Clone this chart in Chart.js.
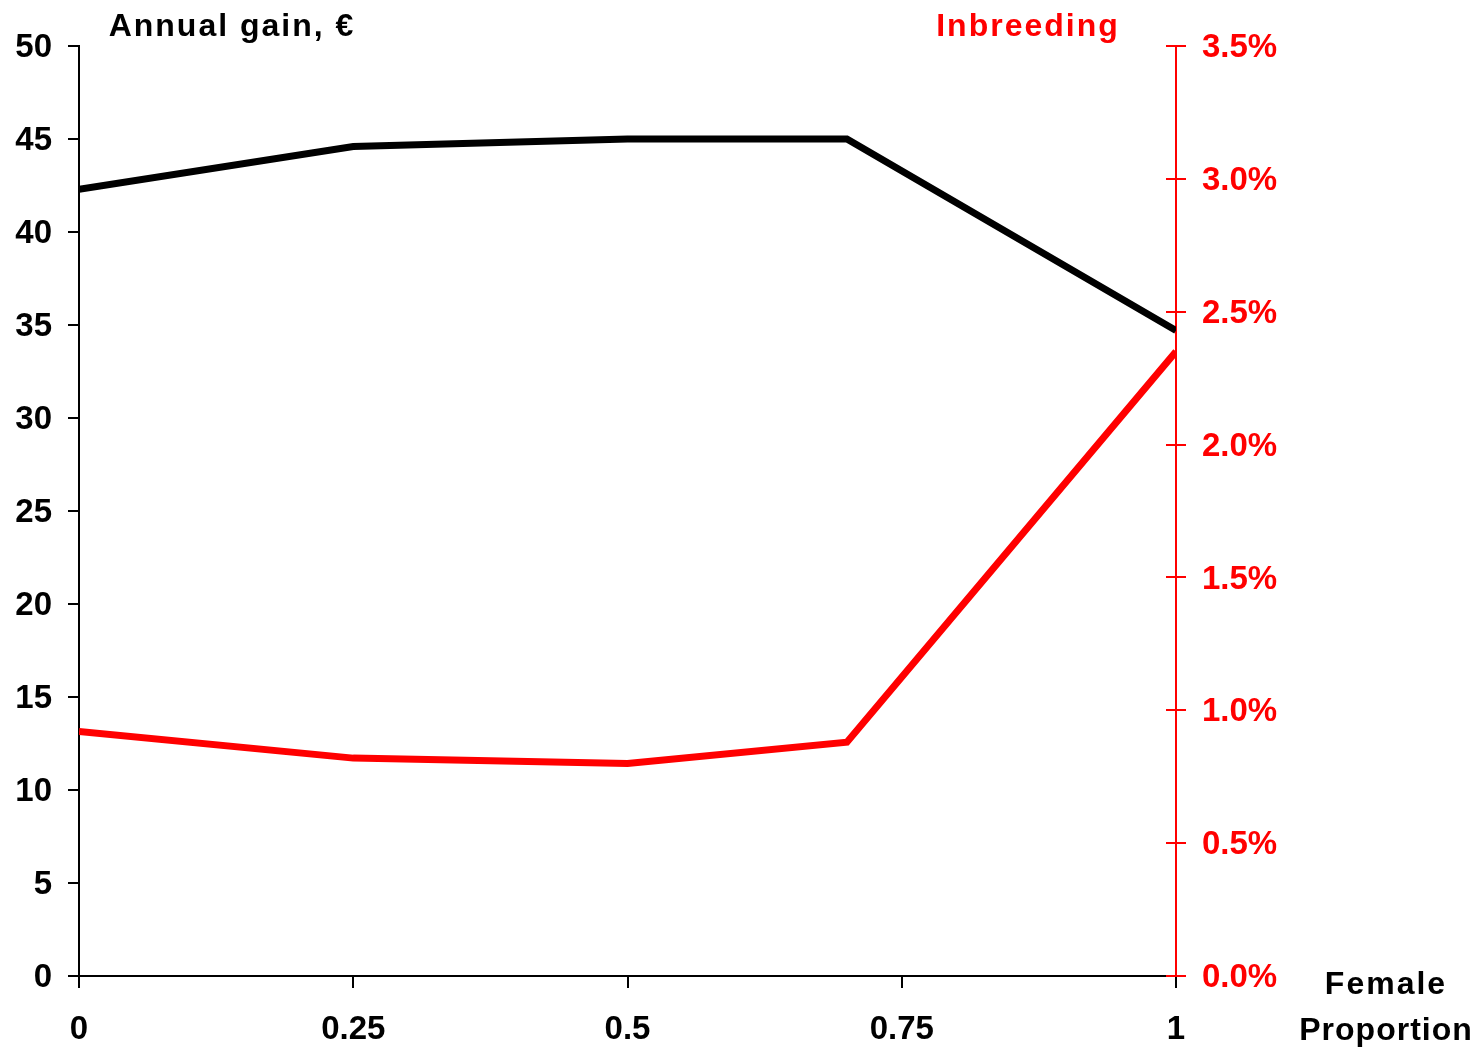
<!DOCTYPE html>
<html>
<head>
<meta charset="utf-8">
<script src="https://cdn.jsdelivr.net/npm/chart.js@4.4.1/dist/chart.umd.min.js"></script>
<style>
  body { margin: 0; background: #fff; }
  #wrap { width: 1482px; height: 1047px; }
</style>
</head>
<body>
<div id="wrap"><canvas id="myChart" width="1482" height="1047"></canvas></div>
<script>
// female proportion on x axis
let proportions = [0, 0.25, 0.5, 0.7, 1];
// annual gain in euro (left axis)
let annualGain = [42.3, 44.6, 45.0, 45.0, 34.7];
// inbreeding in percent (right axis)
let inbreeding = [0.92, 0.82, 0.80, 0.88, 2.35];

let xTicks = [0, 0.25, 0.5, 0.75, 1];

const FONT = '"Liberation Sans", Arial, sans-serif';

function toPoints(values) {
  return proportions.map((p, i) => ({ x: p, y: values[i] }));
}

// red ticks on the right axis cross the axis line, draw the inner half
const crossTicks = {
  id: "crossTicks",
  afterDatasetsDraw(chart) {
    const ctx = chart.ctx;
    const scale = chart.scales.y1;
    ctx.save();
    ctx.strokeStyle = "#ff0000";
    ctx.lineWidth = 2;
    scale.ticks.forEach(t => {
      let y = Math.round(scale.getPixelForValue(t.value));
      ctx.beginPath();
      ctx.moveTo(scale.left - 10, y);
      ctx.lineTo(scale.left, y);
      ctx.stroke();
    });
    ctx.restore();
  }
};

const labels = {
  id: "labels",
  afterDraw(chart) {
    const ctx = chart.ctx;
    ctx.save();
    ctx.font = "bold 32px " + FONT;
    ctx.textBaseline = "alphabetic";
    ctx.textAlign = "center";

    ctx.letterSpacing = "2px";
    ctx.fillStyle = "#000";
    ctx.fillText("Annual gain, €", 232, 36);

    ctx.fillStyle = "#ff0000";
    ctx.fillText("Inbreeding", 1028, 36);

    ctx.fillStyle = "#000";
    ctx.fillText("Female", 1386, 994);
    ctx.letterSpacing = "1px";
    ctx.fillText("Proportion", 1386, 1040);
    ctx.restore();
  }
};

const config = {
  type: "line",
  data: {
    datasets: [
      {
        label: "Annual gain",
        data: toPoints(annualGain),
        borderColor: "#000",
        borderWidth: 7,
        pointRadius: 0,
        tension: 0,
        yAxisID: "y",
      },
      {
        label: "Inbreeding",
        data: toPoints(inbreeding),
        borderColor: "#ff0000",
        borderWidth: 7,
        pointRadius: 0,
        tension: 0,
        yAxisID: "y1",
      },
    ],
  },
  options: {
    responsive: false,
    animation: false,
    layout: { padding: { top: 46, left: 0, right: 0, bottom: 0 } },
    plugins: { legend: { display: false }, tooltip: { enabled: false } },
    scales: {
      x: {
        type: "linear",
        min: 0,
        max: 1,
        afterBuildTicks: (scale) => { scale.ticks = xTicks.map(v => ({ value: v })); },
        afterFit: (scale) => { scale.height = 71; },
        border: { color: "#000", width: 2 },
        grid: { drawOnChartArea: false, color: "#000", lineWidth: 2, tickLength: 12 },
        ticks: {
          color: "#000",
          padding: 22,
          maxRotation: 0,
          font: { family: FONT, size: 33, weight: "bold" },
          callback: (v) => String(v),
        },
      },
      y: {
        position: "left",
        min: 0,
        max: 50,
        afterFit: (scale) => { scale.width = 79; },
        border: { color: "#000", width: 2 },
        grid: { drawOnChartArea: false, color: "#000", lineWidth: 2, tickLength: 11 },
        ticks: {
          stepSize: 5,
          color: "#000",
          padding: 16,
          labelOffset: 2,
          font: { family: FONT, size: 33, weight: "bold" },
          callback: (v) => String(v),
        },
      },
      y1: {
        position: "right",
        min: 0,
        max: 3.5,
        afterFit: (scale) => { scale.width = 306; },
        border: { color: "#ff0000", width: 2 },
        grid: { drawOnChartArea: false, color: "#ff0000", lineWidth: 2, tickLength: 10 },
        ticks: {
          stepSize: 0.5,
          color: "#ff0000",
          padding: 16,
          labelOffset: 2,
          font: { family: FONT, size: 33, weight: "bold" },
          callback: (v) => v.toFixed(1) + "%",
        },
      },
    },
  },
  plugins: [crossTicks, labels],
};

const myChart = new Chart(document.getElementById("myChart"), config);
</script>
</body>
</html>
